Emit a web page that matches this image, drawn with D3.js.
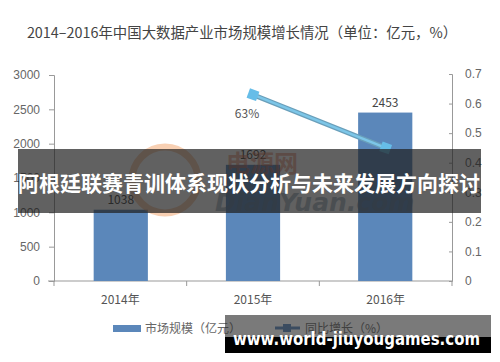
<!DOCTYPE html>
<html>
<head>
<meta charset="utf-8">
<script src="https://cdn.jsdelivr.net/npm/d3@7"></script>
<style>
  html, body { margin: 0; padding: 0; background: #fff; }
  svg { display: block; font-family: "Noto Sans CJK SC", "Noto Sans", sans-serif; }
</style>
</head>
<body>
<div id="chart"></div>
<script>
const years = ['2014年', '2015年', '2016年'];
const marketSize = [1038, 1692, 2453];
const growthRate = [null, 0.63, 0.45];
const growthLabels = [null, '63%', null];
const leftTicks = [0, 500, 1000, 1500, 2000, 2500, 3000];
const rightTicks = [0, 0.1, 0.2, 0.3, 0.4, 0.5, 0.6, 0.7];

const W = 500, H = 362;
const svg = d3.select('#chart').append('svg')
  .attr('width', W).attr('height', H);

// title
svg.append('text')
  .attr('x', 242).attr('y', 38)
  .attr('text-anchor', 'middle')
  .attr('font-size', 14.4)
  .attr('fill', '#444')
  .text('2014–2016年中国大数据产业市场规模增长情况（单位：亿元，%）');

const x = d3.scaleBand().domain(years).range([54, 452]).paddingInner(0.59).paddingOuter(0.3);
const band = d3.scaleBand().domain(years).range([54, 452]);
const yL = d3.scaleLinear().domain([0, 3000]).range([281, 75]);
const yR = d3.scaleLinear().domain([0, 0.7]).range([281, 74]);

// left axis
const gl = svg.append('g').attr('transform', 'translate(54,0)')
  .call(d3.axisLeft(yL).tickValues(leftTicks).tickSize(5).tickPadding(9).tickFormat(d3.format('d')));
// right axis, ticks inward
const gr = svg.append('g').attr('transform', 'translate(452,0)')
  .call(d3.axisRight(yR).tickValues(rightTicks).tickSize(-3).tickPadding(13)
    .tickFormat(d => d === 0 ? '0' : d3.format('.1f')(d)));
[gl, gr].forEach(g => {
  g.select('.domain').attr('stroke', '#999');
  g.selectAll('.tick line').attr('stroke', '#999');
  g.selectAll('.tick text').attr('fill', '#666').attr('font-size', 12);
});

// bottom axis with ticks at band edges
svg.append('line').attr('x1', 48).attr('x2', 452).attr('y1', 281).attr('y2', 281)
  .attr('stroke', '#999');
const edges = years.map(d => band(d)).concat([band.range()[1]]);
svg.append('g').selectAll('line').data(edges).join('line')
  .attr('x1', d => d).attr('x2', d => d)
  .attr('y1', 281).attr('y2', 286)
  .attr('stroke', '#999');
svg.append('g').selectAll('text').data(years).join('text')
  .attr('x', d => band(d) + band.bandwidth() / 2)
  .attr('y', 304)
  .attr('text-anchor', 'middle')
  .attr('font-size', 12)
  .attr('fill', '#555')
  .text(d => d);

// bars
svg.append('g').selectAll('rect').data(marketSize).join('rect')
  .attr('x', (d, i) => x(years[i]))
  .attr('width', x.bandwidth())
  .attr('y', d => yL(d))
  .attr('height', d => yL(0) - yL(d))
  .attr('fill', '#5b87ba');
svg.append('g').selectAll('text').data(marketSize).join('text')
  .attr('x', (d, i) => x(years[i]) + x.bandwidth() / 2)
  .attr('y', d => yL(d) - 6)
  .attr('text-anchor', 'middle')
  .attr('font-size', 12)
  .attr('fill', '#444')
  .text(d => d);

// growth line
const pts = growthRate.map((v, i) => ({ v, i })).filter(p => p.v !== null);
const cx = p => band(years[p.i]) + band.bandwidth() / 2;
const line = d3.line().x(cx).y(p => yR(p.v));
svg.append('path').datum(pts).attr('d', line)
  .attr('fill', 'none').attr('stroke', '#6a9fba').attr('stroke-width', 5);
svg.append('path').datum(pts).attr('d', line)
  .attr('fill', 'none').attr('stroke', '#7cc6e8').attr('stroke-width', 2.5);
svg.append('g').selectAll('rect').data(pts).join('rect')
  .attr('x', -5).attr('y', -5).attr('width', 10).attr('height', 10)
  .attr('transform', p => `translate(${cx(p)},${yR(p.v)}) rotate(20)`)
  .attr('fill', '#66bde8');
svg.append('g').selectAll('text').data(pts.filter(p => growthLabels[p.i])).join('text')
  .attr('x', p => cx(p) - 6)
  .attr('y', p => yR(p.v) + 23)
  .attr('text-anchor', 'middle')
  .attr('font-size', 12)
  .attr('fill', '#555')
  .text(p => growthLabels[p.i]);

// legend
svg.append('rect').attr('x', 113).attr('y', 325).attr('width', 28).attr('height', 7).attr('fill', '#5b87ba');
svg.append('text').attr('x', 145).attr('y', 333).attr('font-size', 12).attr('fill', '#666').text('市场规模（亿元）');
svg.append('line').attr('x1', 275).attr('x2', 300).attr('y1', 328).attr('y2', 328)
  .attr('stroke', '#5b87ba').attr('stroke-width', 3);
svg.append('rect').attr('x', 283).attr('y', 324).attr('width', 8).attr('height', 8).attr('fill', '#5b87ba');
svg.append('text').attr('x', 305).attr('y', 333).attr('font-size', 12).attr('fill', '#666').text('同比增长（%）');

// faded site logo
const logo = svg.append('g').attr('opacity', 0.5);
logo.append('circle').attr('cx', 165).attr('cy', 180).attr('r', 33)
  .attr('fill', 'none').attr('stroke', '#f2a26a').attr('stroke-width', 7);
logo.append('text').attr('x', 226).attr('y', 172).attr('font-size', 24).attr('font-weight', 'bold')
  .attr('fill', '#e0704a').text('电源网');
logo.append('text').attr('x', 215).attr('y', 211).attr('font-size', 25).attr('font-weight', 'bold')
  .attr('font-style', 'italic').attr('font-family', 'DejaVu Sans').attr('fill', '#6a7f95').text('DianYuan.com');

// headline banner
svg.append('rect').attr('x', 18).attr('y', 149).attr('width', 463).attr('height', 64)
  .attr('fill', 'rgba(30,30,30,0.7)');
svg.append('text').attr('x', 249).attr('y', 191).attr('text-anchor', 'middle')
  .attr('font-size', 21).attr('font-weight', 'bold').attr('fill', '#fff')
  .text('阿根廷联赛青训体系现状分析与未来发展方向探讨');

// site footer banner
svg.append('rect').attr('x', 225).attr('y', 315).attr('width', 266).attr('height', 22)
  .attr('fill', 'rgba(40,40,40,0.62)');
svg.append('rect').attr('x', 225).attr('y', 337).attr('width', 266).attr('height', 16)
  .attr('fill', '#000');
svg.append('text').attr('x', 233).attr('y', 345)
  .attr('font-size', 18).attr('font-weight', 'bold').attr('fill', '#fff')
  .attr('font-family', 'DejaVu Sans')
  .attr('textLength', 247).attr('lengthAdjust', 'spacingAndGlyphs')
  .text('www.world-jiuyougames.com');
</script>
</body>
</html>
